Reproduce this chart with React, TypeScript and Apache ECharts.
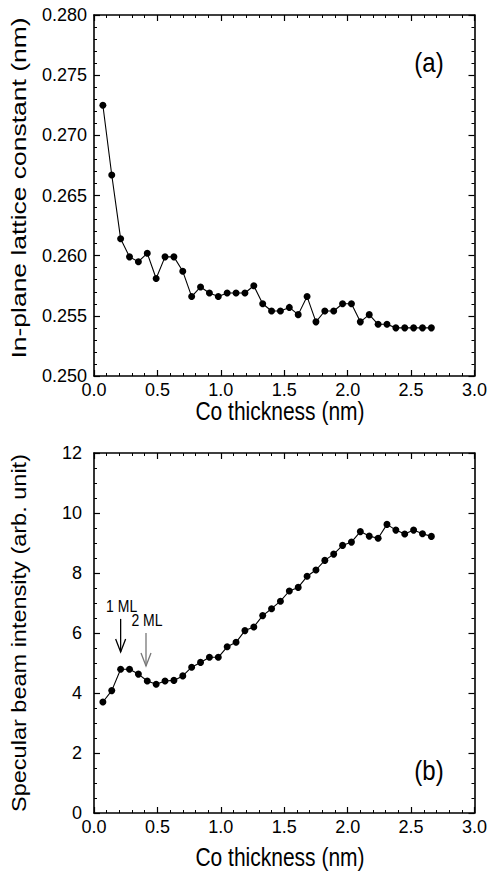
import React, { useEffect, useRef } from "react";
import * as echarts from "echarts";

const thickness = [
  0.07, 0.14, 0.21, 0.28, 0.35, 0.42, 0.49, 0.56, 0.63, 0.7, 0.77, 0.84, 0.91,
  0.98, 1.05, 1.12, 1.19, 1.26, 1.33, 1.4, 1.47, 1.54, 1.61, 1.68, 1.75, 1.82,
  1.89, 1.96, 2.03, 2.1, 2.17, 2.24, 2.31, 2.38, 2.45, 2.52, 2.59, 2.66,
];

const latticeConstant = [
  0.2725, 0.2667, 0.2614, 0.2599, 0.2595, 0.2602, 0.2581, 0.2599, 0.2599,
  0.2587, 0.2566, 0.2574, 0.2569, 0.2566, 0.2569, 0.2569, 0.2569, 0.2575,
  0.256, 0.2554, 0.2554, 0.2557, 0.2551, 0.2566, 0.2545, 0.2554, 0.2554,
  0.256, 0.256, 0.2545, 0.2551, 0.2543, 0.2543, 0.254, 0.254, 0.254, 0.254,
  0.254,
];

const specularIntensity = [
  3.7, 4.08, 4.79, 4.79, 4.63, 4.4, 4.29, 4.4, 4.42, 4.57, 4.86, 5.02, 5.19,
  5.19, 5.54, 5.69, 6.08, 6.2, 6.58, 6.81, 7.06, 7.4, 7.52, 7.89, 8.1, 8.42,
  8.63, 8.92, 9.03, 9.38, 9.23, 9.16, 9.62, 9.43, 9.3, 9.43, 9.31, 9.22,
];

const annotations = [
  { label: "1 ML", x: 0.21, yFrom: 6.47, yTo: 5.37, color: "#000000" },
  { label: "2 ML", x: 0.41, yFrom: 6.0, yTo: 4.9, color: "#777777" },
];

const FONT = "'Liberation Sans', Arial, Helvetica, sans-serif";

export default function App() {
  const ref = useRef<HTMLDivElement>(null);

  useEffect(() => {
    if (!ref.current) return;
    const chart = echarts.init(ref.current, null, { renderer: "svg" });

    const axisLine = { show: true, onZero: false, lineStyle: { color: "#000", width: 1.6 } };
    const axisTick = { show: true, inside: true, length: 6, lineStyle: { color: "#000", width: 1.2 } };

    const xAxis = (gridIndex: number, position: string, showLabel: boolean) => ({
      type: "value",
      gridIndex,
      position,
      min: 0,
      max: 3,
      interval: 0.5,
      axisLine,
      axisTick,
      minorTick: { show: true, splitNumber: 5, length: 3, lineStyle: { color: "#000", width: 1 } },
      axisLabel: {
        show: showLabel,
        color: "#000",
        fontSize: 18,
        fontFamily: FONT,
        margin: 5,
        formatter: (v: number) => v.toFixed(1),
      },
      splitLine: { show: false },
      minorSplitLine: { show: false },
    });

    const yAxis = (
      gridIndex: number,
      position: string,
      showLabel: boolean,
      min: number,
      max: number,
      interval: number,
      minorSplit: number,
      digits: number,
      margin: number
    ) => ({
      type: "value",
      gridIndex,
      position,
      min,
      max,
      interval,
      axisLine,
      axisTick,
      minorTick: { show: true, splitNumber: minorSplit, length: 3, lineStyle: { color: "#000", width: 1 } },
      axisLabel: {
        show: showLabel,
        color: "#000",
        fontSize: 18,
        fontFamily: FONT,
        margin,
        formatter: (v: number) => v.toFixed(digits),
      },
      splitLine: { show: false },
      minorSplitLine: { show: false },
    });

    const lineSeries = (axisIndex: number, ys: number[]) => ({
      type: "line",
      xAxisIndex: axisIndex,
      yAxisIndex: axisIndex,
      data: thickness.map((x, i) => [x, ys[i]]),
      symbol: "circle",
      symbolSize: 7,
      showSymbol: true,
      lineStyle: { color: "#000", width: 1.1 },
      itemStyle: { color: "#000" },
      z: 5,
    });

    const textStyle = (text: string, size: number) => ({
      text,
      fontSize: size,
      fontFamily: FONT,
      fill: "#000",
      align: "center",
      verticalAlign: "middle",
      textAlign: "center",
      textVerticalAlign: "middle",
    });

    chart.setOption({
      animation: false,
      backgroundColor: "#fff",
      grid: [
        { left: 94, top: 15, width: 381, height: 361 },
        { left: 94, top: 453, width: 381, height: 360 },
      ],
      xAxis: [xAxis(0, "bottom", true), xAxis(0, "top", false), xAxis(1, "bottom", true), xAxis(1, "top", false)],
      yAxis: [
        yAxis(0, "left", true, 0.25, 0.28, 0.005, 5, 3, 7),
        yAxis(0, "right", false, 0.25, 0.28, 0.005, 5, 3, 7),
        yAxis(1, "left", true, 0, 12, 2, 4, 0, 12),
        yAxis(1, "right", false, 0, 12, 2, 4, 0, 12),
      ],
      series: [lineSeries(0, latticeConstant), lineSeries(2, specularIntensity)],
    });

    const graphics: any[] = [
      { type: "text", x: 280, y: 411, scaleY: 1.2, style: textStyle("Co thickness (nm)", 21) },
      { type: "text", x: 280, y: 857, scaleY: 1.2, style: textStyle("Co thickness (nm)", 21) },
      {
        type: "text",
        x: 19,
        y: 188,
        rotation: Math.PI / 2,
        scaleX: 1.26,
        style: textStyle("In-plane lattice constant (nm)", 21),
      },
      {
        type: "text",
        x: 19,
        y: 633,
        rotation: Math.PI / 2,
        scaleX: 1.12,
        style: textStyle("Specular beam intensity (arb. unit)", 21),
      },
      { type: "text", x: 429, y: 62, scaleY: 1.15, style: textStyle("(a)", 24) },
      { type: "text", x: 429, y: 770, scaleY: 1.15, style: textStyle("(b)", 24) },
    ];

    annotations.forEach((a) => {
      const top = chart.convertToPixel({ xAxisIndex: 2, yAxisIndex: 2 } as any, [a.x, a.yFrom]) as number[];
      const bot = chart.convertToPixel({ xAxisIndex: 2, yAxisIndex: 2 } as any, [a.x, a.yTo]) as number[];
      graphics.push({
        type: "line",
        shape: { x1: top[0], y1: top[1], x2: bot[0], y2: bot[1] },
        style: { stroke: a.color, lineWidth: 1.3 },
      });
      graphics.push({
        type: "polyline",
        shape: {
          points: [
            [bot[0] - 5, bot[1] - 13],
            [bot[0], bot[1]],
            [bot[0] + 5, bot[1] - 13],
          ],
        },
        style: { stroke: a.color, lineWidth: 1.3, fill: null },
      });
      graphics.push({
        type: "text",
        x: top[0] + 1,
        y: top[1] - 13,
        scaleY: 1.2,
        style: { ...textStyle(a.label, 14), fill: "#000" },
      });
    });

    chart.setOption({ graphic: graphics });

    return () => chart.dispose();
  }, []);

  return (
    <div
      ref={ref}
      style={{ position: "fixed", left: 0, top: 0, width: 490, height: 873, background: "#fff" }}
    />
  );
}
